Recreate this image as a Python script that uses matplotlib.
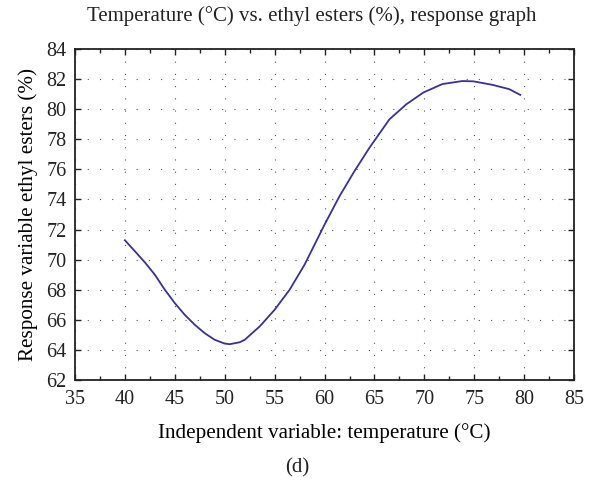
import matplotlib
matplotlib.use('Agg')
import matplotlib.pyplot as plt
from matplotlib.ticker import MultipleLocator

# values
temperature = [40, 41, 42, 43, 44, 45, 46, 47, 48, 49, 50, 50.5, 51.5, 52, 53.5, 55,
               56.5, 58, 60, 61.5, 63, 64.5, 66.5, 68.2, 69.9, 71.8, 73.8, 74.9,
               76.8, 78.5, 79.6]
ethyl_esters = [71.29, 70.56, 69.82, 69.0, 68.0, 67.11, 66.33, 65.67, 65.11, 64.67, 64.42,
                64.38, 64.51, 64.67, 65.56, 66.67, 68.0, 69.67, 72.33, 74.22, 75.89,
                77.44, 79.33, 80.33, 81.11, 81.67, 81.87, 81.85, 81.62, 81.33, 80.95]

title = 'Temperature (°C) vs. ethyl esters (%), response graph'
xlabel = 'Independent variable: temperature (°C)'
ylabel = 'Response variable ethyl esters (%)'
caption = '(d)'

plt.rcParams['font.family'] = 'Liberation Serif'
plt.rcParams['text.color'] = '#222222'

fig = plt.figure(figsize=(5.95, 4.87), dpi=100)
ax = fig.add_axes([0.126, 0.2197, 0.839, 0.6797])

ax.plot(temperature, ethyl_esters, color='#3b2f9c', lw=1.3)

ax.set_xlim(35, 85)
ax.set_ylim(62, 84)
ax.xaxis.set_major_locator(MultipleLocator(5))
ax.xaxis.set_minor_locator(MultipleLocator(2.5))
ax.yaxis.set_major_locator(MultipleLocator(2))

# sparse dotted grid
ax.grid(True, which='major', color='#555555', lw=0.8, linestyle=(0, (1, 10)))
ax.tick_params(which='both', direction='in', top=True, right=True,
               labelsize=14.5, colors='#222222', width=1)
ax.tick_params(which='major', length=4)
ax.tick_params(axis='x', which='major', pad=7)
ax.tick_params(axis='y', which='major', pad=6)
ax.tick_params(which='minor', length=3)
for s in ax.spines.values():
    s.set_linewidth(1.3)
    s.set_color('#222222')

fig.text(0.524, 0.968, title, ha='center', va='center', fontsize=15)
ax.set_xlabel(xlabel, fontsize=15.2, labelpad=10)
ax.set_ylabel(ylabel, fontsize=15.2, labelpad=6)
fig.text(0.5, 0.039, caption, ha='center', va='center', fontsize=15)

fig.savefig('out.png', dpi=100)
